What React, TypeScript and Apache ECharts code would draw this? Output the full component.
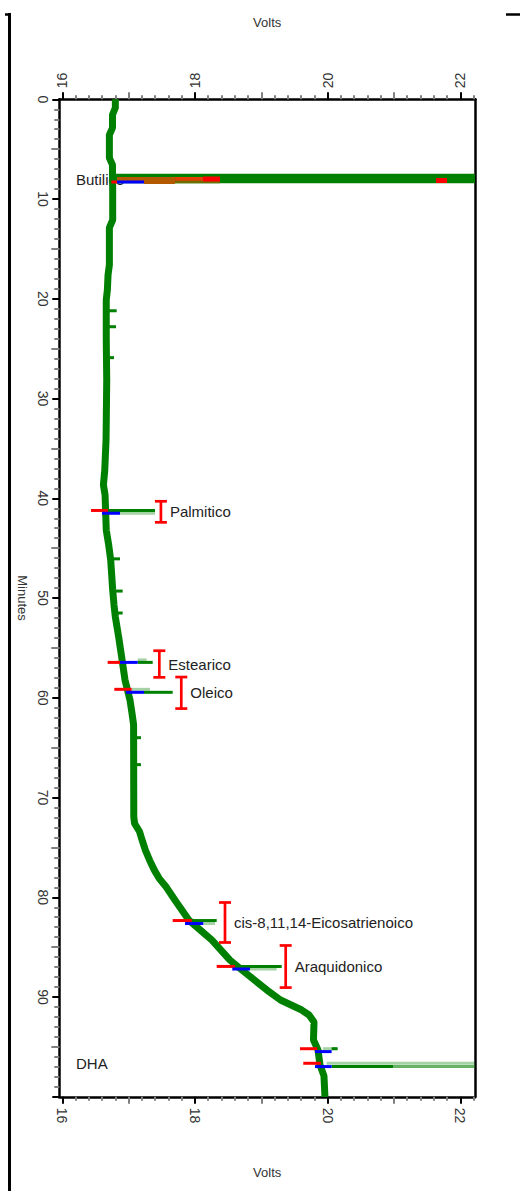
import React, { useEffect, useRef } from "react";
import * as echarts from "echarts";

const FONT = '"Liberation Sans", Arial, sans-serif';

// Axis ranges / ticks
const X_MIN = 15.955;
const X_MAX = 22.222;
const T_MIN = 0;
const T_MAX = 100;
const voltMajor = [16, 18, 20, 22];
const voltMid = [17, 19, 21];
const voltMinor = [
  16.2, 16.4, 16.6, 16.8, 17.2, 17.4, 17.6, 17.8, 18.2, 18.4, 18.6, 18.8,
  19.2, 19.4, 19.6, 19.8, 20.2, 20.4, 20.6, 20.8, 21.2, 21.4, 21.6, 21.8, 22.2,
];
const timeMid = [5, 15, 25, 35, 45, 55, 65, 75, 85, 95];
const timeLabels = [0, 10, 20, 30, 40, 50, 60, 70, 80, 90];

// Main trace (time in minutes, signal in volts)
const traceTime = [
  0, 0.85, 1.55, 2.86, 3.56, 5.87, 6.57, 7.27, 9.07, 12.08, 12.88, 16.59, 17.6,
  19.1, 20.1, 24.1, 28.1, 34.1, 37.2, 38.65, 39.66, 43.2, 44.7, 46.2, 49.2,
  50.7, 51.9, 53.9, 55.9, 58.2, 60.2, 61.5, 62.7, 71.95, 72.6, 73.4, 74.4,
  75.3, 76.3, 77.3, 78.1, 79.0, 80.3, 82.3, 84.3, 86.3, 87.3, 89.3, 90.3, 90.8,
  91.3, 91.8, 92.5, 94.3, 95.3, 96.8, 97.9, 100,
];
const traceVolts = [
  16.8, 16.8, 16.757, 16.757, 16.71, 16.71, 16.757, 16.757, 16.76, 16.76,
  16.71, 16.71, 16.69, 16.68, 16.663, 16.663, 16.67, 16.66, 16.64, 16.62,
  16.645, 16.663, 16.7, 16.73, 16.76, 16.78, 16.8, 16.85, 16.895, 16.945,
  17.02, 17.05, 17.075, 17.078, 17.09, 17.164, 17.21, 17.254, 17.318, 17.39,
  17.46, 17.57, 17.7, 17.91, 18.256, 18.528, 18.71, 19.085, 19.29, 19.45,
  19.61, 19.72, 19.795, 19.787, 19.855, 19.885, 19.945, 19.96,
];

// Segments: [voltsStart, voltsEnd, time]
const noiseBumps = [
  [16.663, 16.82, 21.2], [16.663, 16.81, 22.8], [16.665, 16.78, 25.9],
  [16.73, 16.87, 46.07], [16.76, 16.91, 49.3], [16.79, 16.91, 51.5],
  [17.075, 17.186, 64.0], [17.077, 17.186, 66.7],
];
const solventBand = [[16.76, 23, 7.94]];
const solventBrown = [[16.825, 17.7, 7.99], [17.232, 17.7, 8.29]];
const solventOrange = [[17.7, 18.121, 7.99]];
const solventOlive = [[17.7, 18.377, 8.29]];
const solventRed = [[18.121, 18.377, 7.99], [21.635, 21.8, 8.14]];
const peakLines = [
  [16.689, 17.398, 41.22], [17.137, 17.363, 56.45], [17.232, 17.664, 59.45],
  [17.92, 18.328, 82.33], [18.604, 19.308, 86.93], [20.061, 20.152, 95.18],
  [20.061, 20.99, 96.97],
];
const peakLinesMedium = [[20.99, 23, 96.97]];
const peakShadows = [
  [16.87, 17.398, 41.5], [17.137, 17.272, 56.2], [17.046, 17.322, 59.15],
  [18.126, 18.302, 82.63], [18.83, 19.232, 87.19], [19.93, 20.13, 95.18],
  [19.986, 23, 96.64],
];
const redMarks = [
  [16.74, 16.825, 8.29], [16.433, 16.689, 41.22], [16.684, 16.87, 56.45],
  [16.784, 17.046, 59.15], [17.664, 17.951, 82.33], [18.328, 18.604, 86.93],
  [19.584, 19.844, 95.18], [19.633, 19.9, 96.64],
];
const blueMarks = [
  [16.825, 17.232, 8.29], [16.599, 16.87, 41.5], [16.87, 17.137, 56.45],
  [16.96, 17.232, 59.45], [17.85, 18.126, 82.63], [18.563, 18.83, 87.19],
  [19.81, 20.061, 95.47], [19.81, 20.061, 96.97],
];

// Identification windows: [volts, timeStart, timeEnd]
const windowNames = ["Palmitico", "Estearico", "Oleico", "cis-8,11,14-Eicosatrienoico", "Araquidonico"];
const windowData = [
  [17.487, 40.3, 42.41],
  [17.463, 55.28, 57.95],
  [17.794, 57.92, 61.08],
  [18.453, 80.52, 84.53],
  [19.368, 84.83, 89.05],
];
const sideNames = ["Butilico", "DHA"];
const sideData = [[16.207, 8.07], [16.207, 96.7]];

function segSeries(name: string, data: number[][], color: string, width: number, opacity: number, z: number) {
  return {
    type: "custom",
    name,
    z,
    data,
    renderItem: (params: any, api: any) => {
      const cs = params.coordSys;
      const a = api.coord([api.value(0), api.value(2)]);
      const b = api.coord([api.value(1), api.value(2)]);
      const lo = cs.x;
      const hi = cs.x + cs.width;
      const x1 = Math.max(lo, Math.min(hi, a[0]));
      const x2 = Math.max(lo, Math.min(hi, b[0]));
      return {
        type: "line",
        shape: { x1, y1: a[1], x2, y2: b[1] },
        style: { stroke: color, lineWidth: width, opacity },
      };
    },
  };
}

export default function App() {
  const ref = useRef<HTMLDivElement>(null);
  useEffect(() => {
    if (!ref.current) return;
    const chart = echarts.init(ref.current, null, { renderer: "svg" });
    const xBase = {
      type: "value",
      min: X_MIN,
      max: X_MAX,
      splitLine: { show: false },
    };
    const labelStyle = { fontSize: 14, color: "#333", fontFamily: FONT };
    const nameStyle = { fontSize: 13, color: "#333", fontFamily: FONT };
    const mkX = (pos: string) => [
      {
        ...xBase,
        position: pos,
        axisLine: { show: true, onZero: false, lineStyle: { color: "#000", width: 2.5 } },
        axisTick: { show: true, customValues: voltMajor, length: 7, lineStyle: { color: "#000", width: 2 } },
        axisLabel: { show: true, customValues: voltMajor, rotate: -90, margin: 11, ...labelStyle },
        name: "Volts",
        nameLocation: "middle",
        nameGap: pos === "top" ? 70 : 69,
        nameTextStyle: nameStyle,
      },
      {
        ...xBase,
        position: pos,
        axisLine: { show: false, onZero: false },
        axisTick: { show: true, customValues: voltMinor, length: 4, lineStyle: { color: "#808080", width: 2 } },
        axisLabel: { show: false },
      },
      {
        ...xBase,
        position: pos,
        axisLine: { show: false, onZero: false },
        axisTick: { show: true, customValues: voltMid, length: 7, lineStyle: { color: "#808080", width: 2 } },
        axisLabel: { show: false },
      },
    ];
    const yBase = {
      type: "value",
      inverse: true,
      min: T_MIN,
      max: T_MAX,
      interval: 10,
      splitLine: { show: false },
    };
    const option: any = {
      animation: false,
      backgroundColor: "#fff",
      grid: { left: 59.3, right: 45, top: 99.3, bottom: 94.2, containLabel: false, outerBoundsMode: "none" },
      xAxis: [...mkX("top"), ...mkX("bottom")],
      yAxis: [
        {
          ...yBase,
          position: "left",
          axisLine: { show: true, onZero: false, lineStyle: { color: "#000", width: 2.5 } },
          axisTick: { show: true, length: 7, lineStyle: { color: "#000", width: 2 } },
          minorTick: { show: true, splitNumber: 10, length: 5, lineStyle: { color: "#808080", width: 2 } },
          axisLabel: { show: false },
          name: "Minutes",
          nameLocation: "middle",
          nameRotate: -90,
          nameGap: 30,
          nameTextStyle: nameStyle,
        },
        {
          ...yBase,
          position: "left",
          axisLine: { show: false, onZero: false },
          axisTick: { show: true, customValues: timeMid, length: 8, lineStyle: { color: "#808080", width: 2 } },
          axisLabel: { show: false },
        },
        {
          ...yBase,
          position: "right",
          axisLine: { show: true, onZero: false, lineStyle: { color: "#000", width: 2.5 } },
          axisTick: { show: false },
          axisLabel: { show: false },
        },
      ],
      graphic: [
        { type: "line", shape: { x1: 9.5, y1: 13, x2: 9.5, y2: 1191 }, style: { stroke: "#000", lineWidth: 3 } },
        { type: "line", shape: { x1: 5, y1: 14.5, x2: 11, y2: 14.5 }, style: { stroke: "#000", lineWidth: 2.5 } },
        { type: "line", shape: { x1: 506, y1: 14.5, x2: 520, y2: 14.5 }, style: { stroke: "#000", lineWidth: 2.5 } },
      ],
      series: [
        {
          type: "custom",
          name: "timeTickLabels",
          z: 1,
          clip: false,
          data: timeLabels.map((t) => [X_MIN, t]),
          renderItem: (params: any, api: any) => {
            const cs = params.coordSys;
            const p = api.coord([api.value(0), api.value(1)]);
            return {
              type: "text",
              x: cs.x - 9,
              y: p[1],
              rotation: -Math.PI / 2,
              style: {
                text: String(timeLabels[params.dataIndex]),
                fill: "#333",
                fontSize: 14,
                fontFamily: FONT,
                align: "center",
                verticalAlign: "top",
              },
            };
          },
        },
        {
          type: "custom",
          name: "sideLabels",
          z: 1,
          data: sideData,
          renderItem: (params: any, api: any) => {
            const p = api.coord([api.value(0), api.value(1)]);
            return {
              type: "text",
              x: p[0],
              y: p[1],
              style: {
                text: sideNames[params.dataIndex],
                fill: "#222",
                fontSize: 15,
                fontFamily: FONT,
                align: "left",
                verticalAlign: "middle",
              },
            };
          },
        },
        {
          type: "line",
          name: "trace",
          z: 2,
          data: traceTime.map((t, i) => [traceVolts[i], t]),
          showSymbol: false,
          symbol: "none",
          lineStyle: { color: "#008000", width: 7 },
          clip: true,
        },
        segSeries("noise", noiseBumps, "#008000", 3, 1, 2),
        segSeries("solvent", solventBand, "#008000", 9.5, 1, 3),
        segSeries("solventBrown", solventBrown, "#b35a00", 4, 1, 4),
        segSeries("solventOrange", solventOrange, "#e04000", 4, 1, 4),
        segSeries("solventOlive", solventOlive, "#6e6e00", 2.5, 1, 4),
        segSeries("solventRed", solventRed, "#ff0000", 5, 1, 5),
        segSeries("peakShadows", peakShadows, "#008000", 3, 0.35, 3),
        segSeries("peakLinesMedium", peakLinesMedium, "#008000", 3, 0.6, 3),
        segSeries("peakLines", peakLines, "#008000", 3, 1, 3),
        segSeries("red", redMarks, "#ff0000", 3, 1, 5),
        segSeries("blue", blueMarks, "#0000ff", 3, 1, 5),
        {
          type: "custom",
          name: "windows",
          z: 5,
          data: windowData,
          renderItem: (params: any, api: any) => {
            const a = api.coord([api.value(0), api.value(1)]);
            const b = api.coord([api.value(0), api.value(2)]);
            const x = a[0];
            const st = { stroke: "#ff0000", lineWidth: 2.7 };
            return {
              type: "group",
              children: [
                { type: "line", shape: { x1: x, y1: a[1], x2: x, y2: b[1] }, style: st },
                { type: "line", shape: { x1: x - 6, y1: a[1], x2: x + 6, y2: a[1] }, style: st },
                { type: "line", shape: { x1: x - 6, y1: b[1], x2: x + 6, y2: b[1] }, style: st },
                {
                  type: "text",
                  x: x + 9,
                  y: (a[1] + b[1]) / 2,
                  style: {
                    text: windowNames[params.dataIndex],
                    fill: "#222",
                    fontSize: 15,
                    fontFamily: FONT,
                    align: "left",
                    verticalAlign: "middle",
                  },
                },
              ],
            };
          },
        },
      ],
    };
    chart.setOption(option);
    return () => chart.dispose();
  }, []);
  return (
    <div
      ref={ref}
      style={{ position: "absolute", left: 0, top: 0, width: 520, height: 1191, background: "#fff" }}
    />
  );
}
